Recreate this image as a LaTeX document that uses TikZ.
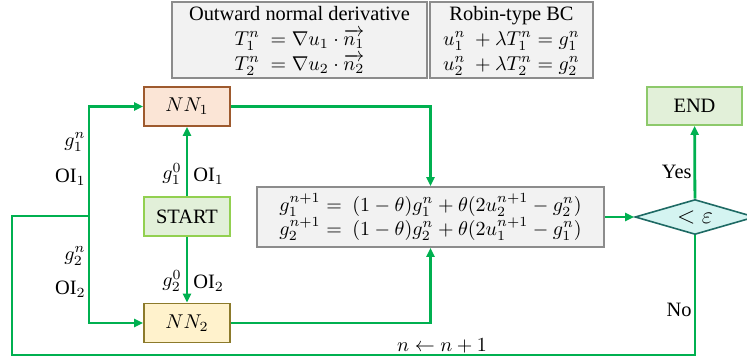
\documentclass[tikz,border=0pt]{standalone}
\usepackage{amsmath,amssymb}
\usepackage{fontspec}
\setmainfont{Liberation Serif}
\usepackage{tikz}
\usetikzlibrary{arrows.meta,calc,positioning,shapes.geometric}

\definecolor{flow}{HTML}{00B050}
\definecolor{nnAfill}{HTML}{FBE5D6}
\definecolor{nnAdraw}{HTML}{9E5A2E}
\definecolor{nnBfill}{HTML}{FFF2CC}
\definecolor{nnBdraw}{HTML}{8C7A2B}
\definecolor{startfill}{HTML}{E2F0D9}
\definecolor{startdraw}{HTML}{92D050}
\definecolor{enddraw}{HTML}{8DC96B}
\definecolor{testfill}{HTML}{D4F4F1}
\definecolor{testdraw}{HTML}{1E6A64}
\definecolor{boxfill}{HTML}{F2F2F2}
\definecolor{boxdraw}{HTML}{8C8C8C}

\begin{document}
\begin{tikzpicture}[
        x=0.5pt,
        y=-0.5pt,
        font=\fontsize{10.2}{12}\selectfont,
        link/.style={draw=flow, line width=1.4pt},
        arr/.style={link, -{Triangle[length=4.5pt,width=4pt]}},
        infobox/.style={draw=boxdraw, line width=1pt, fill=boxfill, minimum height=38pt, align=center, inner sep=0.5pt},
        netbox/.style={draw, line width=0.8pt, minimum width=43pt, minimum height=19.5pt, inner sep=1pt},
        updbox/.style={draw=boxdraw, line width=0.8pt, fill=boxfill, minimum width=173.5pt, minimum height=30pt, align=center, inner sep=1pt},
        test/.style={diamond, draw=testdraw, line width=0.8pt, fill=testfill, minimum width=60pt, minimum height=17.5pt, inner sep=0pt, aspect=3.4},
        lab/.style={inner sep=1pt}
    ]
        \useasboundingbox (0,0) rectangle (747,363);

        % formula boxes on top
        \node[infobox, minimum width=127.5pt] (normal) at (299.5,40.5)
            {Outward normal derivative\\[0.5pt]
             $T_1^n\ = \nabla u_1\cdot\overrightarrow{n_1}$\\[0.5pt]
             $T_2^n\ = \nabla u_2\cdot\overrightarrow{n_2}$};
        \node[infobox, minimum width=81.5pt] (robin) at (511.5,40.5)
            {Robin-type BC\\[0.5pt]
             $u_1^n\ +\lambda T_1^n = g_1^n$\\[0.5pt]
             $u_2^n\ +\lambda T_2^n = g_2^n$};

        % blocks
        \node[netbox, draw=nnAdraw, fill=nnAfill] (nn1) at (187,106.5) {$NN_1$};
        \node[netbox, draw=startdraw, fill=startfill] (start) at (187,216.5) {START};
        \node[netbox, draw=nnBdraw, fill=nnBfill] (nn2) at (187,323) {$NN_2$};
        \node[updbox] (update) at (430.5,217)
            {$g_1^{n+1} =\ (1-\theta)g_1^n+\theta(2u_2^{n+1}-g_2^n)$\\
             $g_2^{n+1} =\ (1-\theta)g_2^n+\theta(2u_1^{n+1}-g_1^n)$};
        \node[test] (check) at (695,217) {\large$<\varepsilon$};
        \node[netbox, draw=enddraw, fill=startfill, minimum width=47.5pt, minimum height=19pt] (stop) at (694.5,106) {END};

        \coordinate (split) at (89,216);
        \coordinate (back) at (12,355);

        % connectors
        \draw[arr] (start) -- (nn1);
        \draw[arr] (start) -- (nn2);
        \draw[arr] (split) |- (nn1);
        \draw[arr] (split) |- (nn2);
        \draw[arr] (nn1) -| (update);
        \draw[arr] (nn2) -| (update);
        \draw[arr] (update) -- (check);
        \draw[arr] (check) -- (stop);
        \draw[link] (check.south) |- (back) |- (split);

        % labels
        \node[lab, anchor=east] (g1n) at (88,142) {$g_1^n$};
        \node[lab, anchor=east] (oi1n) at (88,177) {$\mathrm{OI}_1$};
        \node[lab, anchor=east] (g2n) at (88,256) {$g_2^n$};
        \node[lab, anchor=east] (oi2n) at (88,289) {$\mathrm{OI}_2$};
        \node[lab, anchor=east] (g10) at (184,174) {$g_1^0$};
        \node[lab, anchor=west] (oi10) at (191,176) {$\mathrm{OI}_1$};
        \node[lab, anchor=east] (g20) at (184,281) {$g_2^0$};
        \node[lab, anchor=west] (oi20) at (191,283) {$\mathrm{OI}_2$};
        \node[lab, anchor=east] (yes) at (694,172) {Yes};
        \node[lab, anchor=east] (no) at (694,310) {No};
        \node[lab] (incr) at (442,346) {$n\leftarrow n+1$};
    \end{tikzpicture}
\end{document}
